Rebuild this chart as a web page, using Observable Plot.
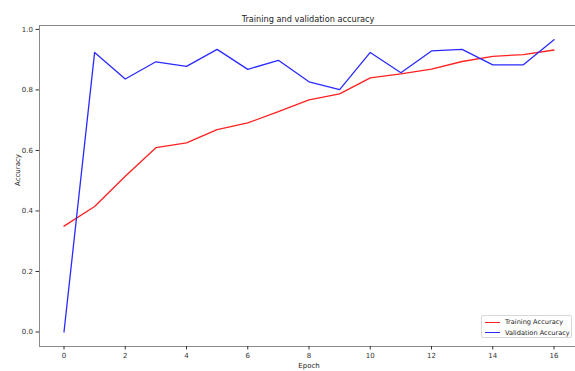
<!DOCTYPE html>
<html>
<head>
<meta charset="utf-8">
<script src="https://cdn.jsdelivr.net/npm/d3@7"></script>
<script src="https://cdn.jsdelivr.net/npm/@observablehq/plot@0.6"></script>
<style>
  html, body { margin: 0; padding: 0; background: #fff; }
  #wrap { position: relative; width: 575px; height: 371px; overflow: hidden; font-family: "DejaVu Sans", sans-serif; }
  #wrap svg { max-width: none !important; display: block; }
  #legend { position: absolute; left: 481px; top: 315px; width: 91px; height: 23px; border: 1px solid #d8d8d8; border-radius: 2px; background: #fff; font-size: 6.6px; color: #222; box-sizing: border-box; }
  .row { position: absolute; left: 3px; height: 10px; display: flex; align-items: center; white-space: nowrap; }
  .sw { width: 15px; height: 0; border-top: 1.3px solid; margin-right: 5px; }
</style>
</head>
<body>
<div id="wrap"></div>
<script>
const epochs = [0,1,2,3,4,5,6,7,8,9,10,11,12,13,14,15,16];
const trainingAccuracy = [0.350,0.415,0.515,0.609,0.625,0.669,0.691,0.728,0.767,0.787,0.840,0.853,0.869,0.894,0.911,0.917,0.932];
const validationAccuracy = [0.000,0.924,0.836,0.893,0.878,0.934,0.868,0.898,0.827,0.801,0.924,0.857,0.929,0.934,0.883,0.883,0.966];
const xTicks = [0,2,4,6,8,10,12,14,16];
const yTicks = [0.0,0.2,0.4,0.6,0.8,1.0];
const seriesNames = ["Training Accuracy", "Validation Accuracy"];
const seriesColors = ["#ff2020", "#2a2aff"];

const train = epochs.map((e, i) => ({epoch: e, acc: trainingAccuracy[i]}));
const val = epochs.map((e, i) => ({epoch: e, acc: validationAccuracy[i]}));

const chart = Plot.plot({
  width: 578,
  height: 371,
  marginLeft: 39,
  marginRight: 0,
  marginTop: 25,
  marginBottom: 25,
  style: {fontFamily: "DejaVu Sans, sans-serif", fontSize: "7px", color: "#333", background: "#fff", maxWidth: "none"},
  x: {domain: [-0.8, 16.8], ticks: xTicks, tickFormat: d3.format("d"), tickSize: 3.5, label: null},
  y: {domain: [-0.048, 1.013], ticks: yTicks, tickFormat: d3.format(".1f"), tickSize: 3.5, label: null},
  marks: [
    Plot.frame({stroke: "#8a8a8a", strokeWidth: 1}),
    Plot.axisX({ticks: xTicks, tickFormat: d3.format("d"), tickSize: 3.5, tickPadding: 3, label: null}),
    Plot.axisY({ticks: yTicks, tickFormat: d3.format(".1f"), tickSize: 3.5, tickPadding: 3, label: null}),
    Plot.line(train, {x: "epoch", y: "acc", stroke: seriesColors[0], strokeWidth: 1.3}),
    Plot.line(val, {x: "epoch", y: "acc", stroke: seriesColors[1], strokeWidth: 1.3}),
    Plot.text(["Training and validation accuracy"], {frameAnchor: "top", dx: -1, dy: -9, fontSize: 8.2, fill: "#222"}),
    Plot.text(["Epoch"], {frameAnchor: "bottom", dy: 21, fontSize: 7, fill: "#222"}),
    Plot.text(["Accuracy"], {frameAnchor: "left", dx: -22, rotate: -90, fontSize: 7, fill: "#222"})
  ]
});
const wrap = document.getElementById("wrap");
wrap.appendChild(chart);

const legend = document.createElement("div");
legend.id = "legend";
seriesNames.forEach((name, i) => {
  const row = document.createElement("div");
  row.className = "row";
  row.style.top = (1 + i * 10.5) + "px";
  const sw = document.createElement("span");
  sw.className = "sw";
  sw.style.borderTopColor = seriesColors[i];
  const t = document.createElement("span");
  t.textContent = name;
  row.appendChild(sw);
  row.appendChild(t);
  legend.appendChild(row);
});
wrap.appendChild(legend);
</script>
</body>
</html>
